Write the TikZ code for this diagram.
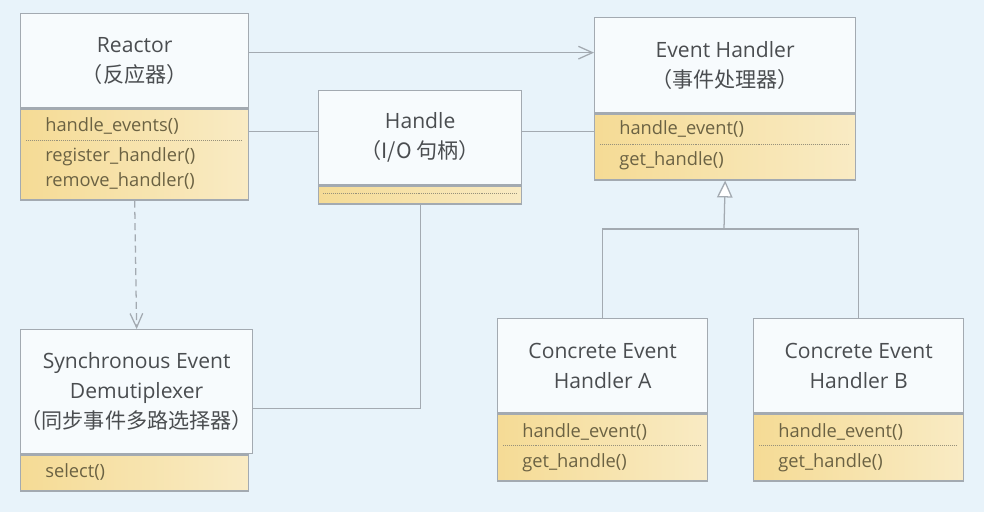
\documentclass[tikz,border=0pt]{standalone}
\usepackage{fontspec}
\setmainfont{Open Sans}
\newfontfamily\cjk{Noto Sans CJK SC}
\usetikzlibrary{arrows.meta}
\definecolor{bgblue}{HTML}{E8F3FA}
\definecolor{linegray}{HTML}{A3AAB1}
\definecolor{titletext}{HTML}{4A4D50}
\definecolor{optext}{HTML}{6B6243}
\definecolor{opsyellow}{HTML}{F5DB95}
\definecolor{opslight}{HTML}{F9EBC4}
\definecolor{titlefill}{HTML}{F7FBFD}

\tikzset{
  box/.style={draw=linegray, line width=0.9pt, fill=titlefill, anchor=north west, inner sep=0pt,
    align=center, text=titletext, font=\fontsize{15}{21.5}\selectfont},
  ops/.style={draw=linegray, line width=0.9pt, left color=opsyellow, right color=opslight,
    anchor=north west, inner sep=0pt},
  op/.style={anchor=west, inner sep=0pt, text=optext, font=\fontsize{13}{15}\selectfont,
    text height=10pt, text depth=3pt},
  sep/.style={draw=optext!70, densely dotted, line width=0.4pt},
  link/.style={draw=linegray, line width=0.9pt},
}

\begin{document}
\begin{tikzpicture}[x=0.025cm, y=-0.025cm]
    \fill[bgblue] (0,0) rectangle (984,512);

    \node[box, minimum width=5.7cm, minimum height=2.35cm] (reactor) at (20,13) {Reactor\\{\cjk （反应器）}};
    \node[ops, minimum width=5.7cm, minimum height=2.275cm] (reactorOps) at (reactor.south west) {};
    \node[op] (rEvents) at (45,127) {handle\_events()};
    \draw[sep] (26,140) -- (242,140);
    \node[op] (rRegister) at (45,157) {register\_handler()};
    \node[op] (rRemove) at (45,182) {remove\_handler()};

    \node[box, minimum width=5.075cm, minimum height=2.35cm] (handle) at (318,90) {Handle\\{\cjk （I/O 句柄）}};
    \node[ops, minimum width=5.075cm, minimum height=0.45cm] (handleOps) at (handle.south west) {};
    \draw[sep] (323,193) -- (516,193);

    \node[box, minimum width=6.525cm, minimum height=2.375cm] (evh) at (594,17) {Event Handler\\{\cjk （事件处理器）}};
    \node[ops, minimum width=6.525cm, minimum height=1.65cm] (evhOps) at (evh.south west) {};
    \node[op] (eEvent) at (619,130) {handle\_event()};
    \draw[sep] (600,144) -- (849,144);
    \node[op] (eHandle) at (619,161) {get\_handle()};

    \node[box, minimum width=5.7cm, minimum height=3.1cm] (demux) at (20,329) {Synchronous Event\\Demutiplexer\\{\cjk （同步事件多路选择器）}};
    \node[ops, minimum width=5.7cm, minimum height=0.9cm] (demuxOps) at (demux.south west) {};
    \node[op] (dSelect) at (45,473) {select()};

    \node[box, minimum width=5.25cm, minimum height=2.35cm] (concA) at (497,318) {Concrete Event\\Handler A};
    \node[ops, minimum width=5.25cm, minimum height=1.675cm] (concAOps) at (concA.south west) {};
    \node[op] (aEvent) at (522,433) {handle\_event()};
    \draw[sep] (503,445) -- (701,445);
    \node[op] (aHandle) at (522,463) {get\_handle()};

    \node[box, minimum width=5.25cm, minimum height=2.35cm] (concB) at (753,318) {Concrete Event\\Handler B};
    \node[ops, minimum width=5.25cm, minimum height=1.675cm] (concBOps) at (concB.south west) {};
    \node[op] (bEvent) at (778,433) {handle\_event()};
    \draw[sep] (759,445) -- (957,445);
    \node[op] (bHandle) at (778,463) {get\_handle()};

    \draw[link, -{Straight Barb[length=10pt, width=9pt]}] ([yshift=0.2cm]reactor.east) coordinate (r1) -- (r1 -| evh.west);
    \draw[link] ([yshift=0.15cm]handle.west) coordinate (h1) -- (h1 -| reactorOps.east);
    \draw[link] ([yshift=0.15cm]handle.east) coordinate (h2) -- (h2 -| evhOps.west);
    \draw[link] (handleOps.south) |- ([yshift=-0.425cm]demux.east);
    \draw[link, dash pattern=on 5pt off 3pt, -{Straight Barb[length=10pt, width=9pt]}] (reactorOps.south) -- (demux.north);
    \coordinate (split) at (724,229);
    \draw[link] (concA.north) |- (split) -| (concB.north);
    \draw[link, -{Triangle[open, length=12pt, width=11pt, fill=white]}] (split) -- (evhOps.south);
\end{tikzpicture}
\end{document}
